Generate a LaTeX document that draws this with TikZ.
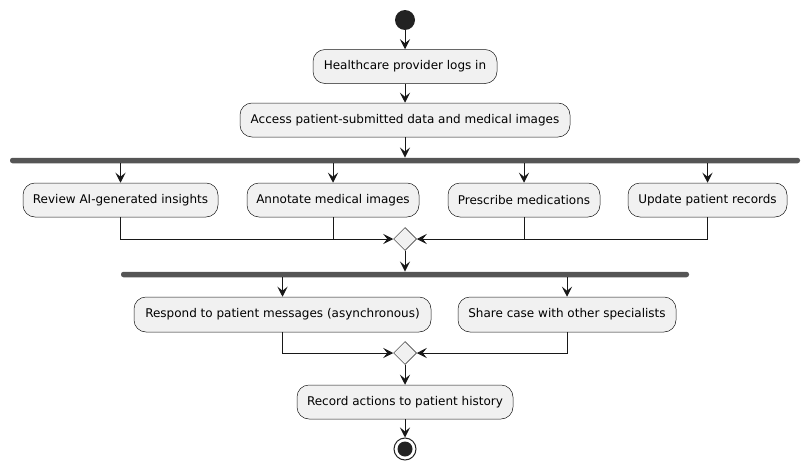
\documentclass[tikz,border=0pt]{standalone}
\usepackage{fontspec}
\setmainfont{DejaVu Sans}
\usetikzlibrary{arrows.meta,shapes.geometric}
\definecolor{boxfill}{HTML}{F1F1F1}
\definecolor{boxline}{HTML}{181818}
\definecolor{barcol}{HTML}{555555}
\definecolor{dotcol}{HTML}{222222}
\tikzset{
  act/.style={draw=boxline, line width=0.5pt, fill=boxfill, rounded corners=12pt,
    minimum height=34pt, inner sep=0pt, font=\fontsize{12}{14}\selectfont, text=black},
  forkbar/.style={fill=barcol, draw=none, rounded corners=2.5pt, minimum height=5.5pt, inner sep=0pt},
  merge/.style={diamond, draw=boxline, line width=0.5pt, fill=boxfill, minimum width=23pt, minimum height=23pt, inner sep=0pt},
  flow/.style={draw=boxline, line width=1pt, -{Stealth[length=10pt,width=10pt,inset=4pt]}},
  plain/.style={draw=boxline, line width=1pt},
}
\begin{document}
\begin{tikzpicture}[x=1pt,y=-1pt]
\useasboundingbox (0,0) rectangle (809,471);
\node[circle, fill=dotcol, minimum size=20pt, inner sep=0pt] (start) at (405,20) {};
\node[act, minimum width=184pt] (login) at (405,66.5) {Healthcare provider logs in};
\node[act, minimum width=330pt] (access) at (405,120) {Access patient-submitted data and medical images};
\node[forkbar, minimum width=790pt] (fork1) at (405,160.5) {};
\node[act, minimum width=195pt] (review) at (120.5,200) {Review AI-generated insights};
\node[act, minimum width=172pt] (annot) at (333,200) {Annotate medical images};
\node[act, minimum width=152pt] (presc) at (524,200) {Prescribe medications};
\node[act, minimum width=159pt] (update) at (707.5,200) {Update patient records};
\node[merge] (m1) at (405,239) {};
\node[forkbar, minimum width=568pt] (fork2) at (405,274.5) {};
\node[act, minimum width=297pt, minimum height=35pt] (respond) at (282.5,314.5) {Respond to patient messages (asynchronous)};
\node[act, minimum width=218pt, minimum height=35pt] (share) at (567,314.5) {Share case with other specialists};
\node[merge] (m2) at (405,353) {};
\node[act, minimum width=216pt] (record) at (405,402) {Record actions to patient history};
\node[circle, draw=dotcol, line width=1pt, fill=white, minimum size=22pt, inner sep=0pt] (stop) at (405,449) {};
\node[circle, fill=dotcol, minimum size=15pt, inner sep=0pt] (stopdot) at (stop.center) {};

\draw[flow] (start) -- (login);
\draw[flow] (login) -- (access);
\draw[flow] (access) -- (fork1);
\draw[flow] (fork1.south -| review) -- (review);
\draw[flow] (fork1.south -| annot) -- (annot);
\draw[flow] (fork1.south -| presc) -- (presc);
\draw[flow] (fork1.south -| update) -- (update);
\draw[flow] (review.south) |- (m1.west);
\draw[plain] (annot.south) -- (annot.south |- m1.west);
\draw[flow] (update.south) |- (m1.east);
\draw[plain] (presc.south) -- (presc.south |- m1.east);
\draw[flow] (m1) -- (fork2);
\draw[flow] (fork2.south -| respond) -- (respond);
\draw[flow] (fork2.south -| share) -- (share);
\draw[flow] (respond.south) |- (m2.west);
\draw[flow] (share.south) |- (m2.east);
\draw[flow] (m2) -- (record);
\draw[flow] (record) -- (stop);
\end{tikzpicture}
\end{document}
